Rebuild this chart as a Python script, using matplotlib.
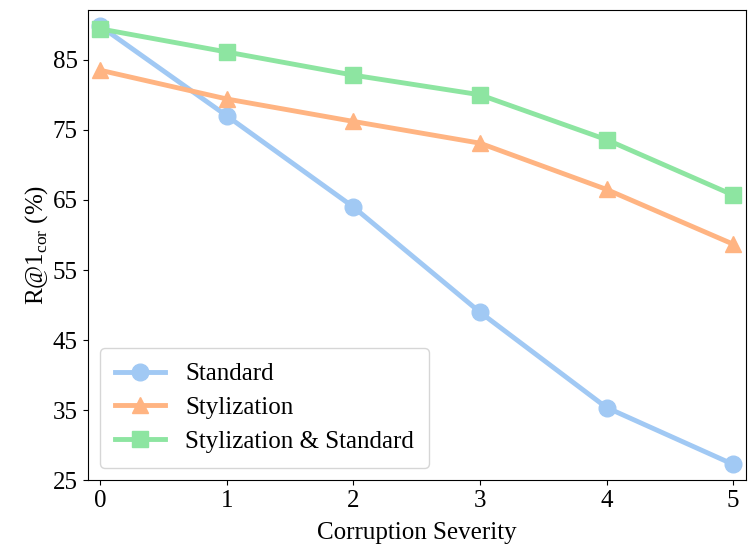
import matplotlib
matplotlib.use("Agg")
import matplotlib.pyplot as plt

# Data.
severity = [0, 1, 2, 3, 4, 5]
standard = [89.8, 77.0, 64.0, 49.0, 35.4, 27.3]
stylization = [83.5, 79.4, 76.2, 73.1, 66.5, 58.7]
styl_standard = [89.4, 86.1, 82.8, 80.0, 73.6, 65.7]
labels = ["Standard", "Stylization", "Stylization & Standard"]
yticks = [25, 35, 45, 55, 65, 75, 85]

plt.rcParams["font.family"] = ["Liberation Serif", "DejaVu Serif"]
plt.rcParams["mathtext.fontset"] = "custom"
plt.rcParams["mathtext.rm"] = "Liberation Serif"

fig, ax = plt.subplots(figsize=(7.48, 5.51), dpi=100)
fig.subplots_adjust(left=0.117, right=0.997, top=0.982, bottom=0.128)

ax.plot(severity, standard, marker="o", color="#a1c9f4", lw=3.5, ms=12, label=labels[0])
ax.plot(severity, stylization, marker="^", color="#ffb482", lw=3.5, ms=12, label=labels[1])
ax.plot(severity, styl_standard, marker="s", color="#8de5a1", lw=3.5, ms=12, label=labels[2])

ax.set_xlim(-0.1, 5.1)
ax.set_ylim(25, 92.1)
ax.set_yticks(yticks)
ax.set_xticks(severity)
ax.tick_params(labelsize=18)
ax.set_xlabel("Corruption Severity", fontsize=18, labelpad=7)
ax.set_ylabel(r"R@1$_{\mathrm{cor}}$ (%)", fontsize=18, labelpad=2)

ax.legend(loc="lower left", fontsize=18, borderpad=0.6, handlelength=2.0,
          labelspacing=0.45)

fig.savefig("out.png", dpi=100)
